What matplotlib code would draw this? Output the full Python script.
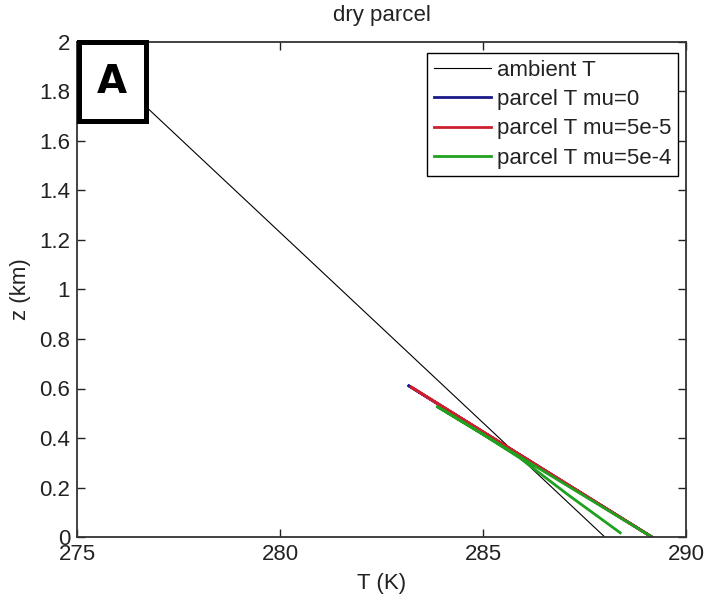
import numpy as np
import matplotlib
matplotlib.use('Agg')
import matplotlib.pyplot as plt
from matplotlib.patches import Rectangle

plt.rcParams['font.family'] = ['Liberation Sans Narrow', 'Liberation Sans', 'DejaVu Sans']

# ambient profile and parcel tracks (T in K, z in km)
ambient_T = [288.0, 275.0]
ambient_z = [0.0, 2.0]

mu0_T = [289.16, 283.17, 289.16]
mu0_z = [0.0, 0.611, 0.0]

mu5e5_T = [289.16, 283.22, 289.12]
mu5e5_z = [0.0, 0.607, 0.004]

mu5e4_T = [289.16, 283.87, 284.95, 285.9, 287.1, 288.38]
mu5e4_z = [0.0, 0.527, 0.42, 0.32, 0.17, 0.017]

xticks = [275, 280, 285, 290]
yticks = [0, 0.2, 0.4, 0.6, 0.8, 1, 1.2, 1.4, 1.6, 1.8, 2]
ytick_labels = ['0', '0.2', '0.4', '0.6', '0.8', '1', '1.2', '1.4', '1.6', '1.8', '2']

fs = 16

fig = plt.figure(figsize=(7.05, 6.03), dpi=100)
ax = fig.add_axes([77 / 705, 66 / 603, 609 / 705, 495 / 603])

ax.plot(ambient_T, ambient_z, color='black', lw=0.8, label='ambient T')
ax.plot(mu0_T, mu0_z, color='#1a1a8a', lw=2.0, label='parcel T mu=0')
ax.plot(mu5e5_T, mu5e5_z, color='#cc1f30', lw=2.0, label='parcel T mu=5e-5')
ax.plot(mu5e4_T, mu5e4_z, color='#1fa01f', lw=2.0, label='parcel T mu=5e-4')

ax.set_xlim(275, 290)
ax.set_ylim(0, 2)
ax.set_xticks(xticks)
ax.set_xticklabels([str(t) for t in xticks])
ax.set_yticks(yticks)
ax.set_yticklabels(ytick_labels)
ax.tick_params(direction='in', top=True, right=True, length=6, width=1,
               labelsize=fs, pad=5, colors='#222222', labelcolor='#222222')
for sp in ax.spines.values():
    sp.set_linewidth(1.3)
    sp.set_color('#333333')

ax.set_xlabel('T (K)', fontsize=fs, color='#222222', labelpad=6)
ax.set_ylabel('z (km)', fontsize=fs, color='#222222', labelpad=6)
ax.set_title('dry parcel', fontsize=fs, color='#222222', pad=15)

leg = ax.legend(loc='upper right', bbox_to_anchor=(0.987, 0.978), borderaxespad=0,
                fontsize=fs, handlelength=2.6, handletextpad=0.25, labelspacing=0.38,
                borderpad=0.3, fancybox=False, framealpha=1, edgecolor='black')
leg.get_frame().set_linewidth(1.0)
for t in leg.get_texts():
    t.set_color('#222222')

# panel label box
box = Rectangle((78.5 / 705, 1 - 120.5 / 603), 67 / 705, 79 / 603,
                transform=fig.transFigure, facecolor='white', edgecolor='black',
                lw=3.6, zorder=10, clip_on=False)
fig.patches.append(box)
fig.text(112 / 705, 1 - 82 / 603, 'A', fontsize=28, fontweight='bold',
         family='DejaVu Sans', ha='center', va='center', zorder=11)

fig.savefig('out.png', dpi=100, facecolor='white')
